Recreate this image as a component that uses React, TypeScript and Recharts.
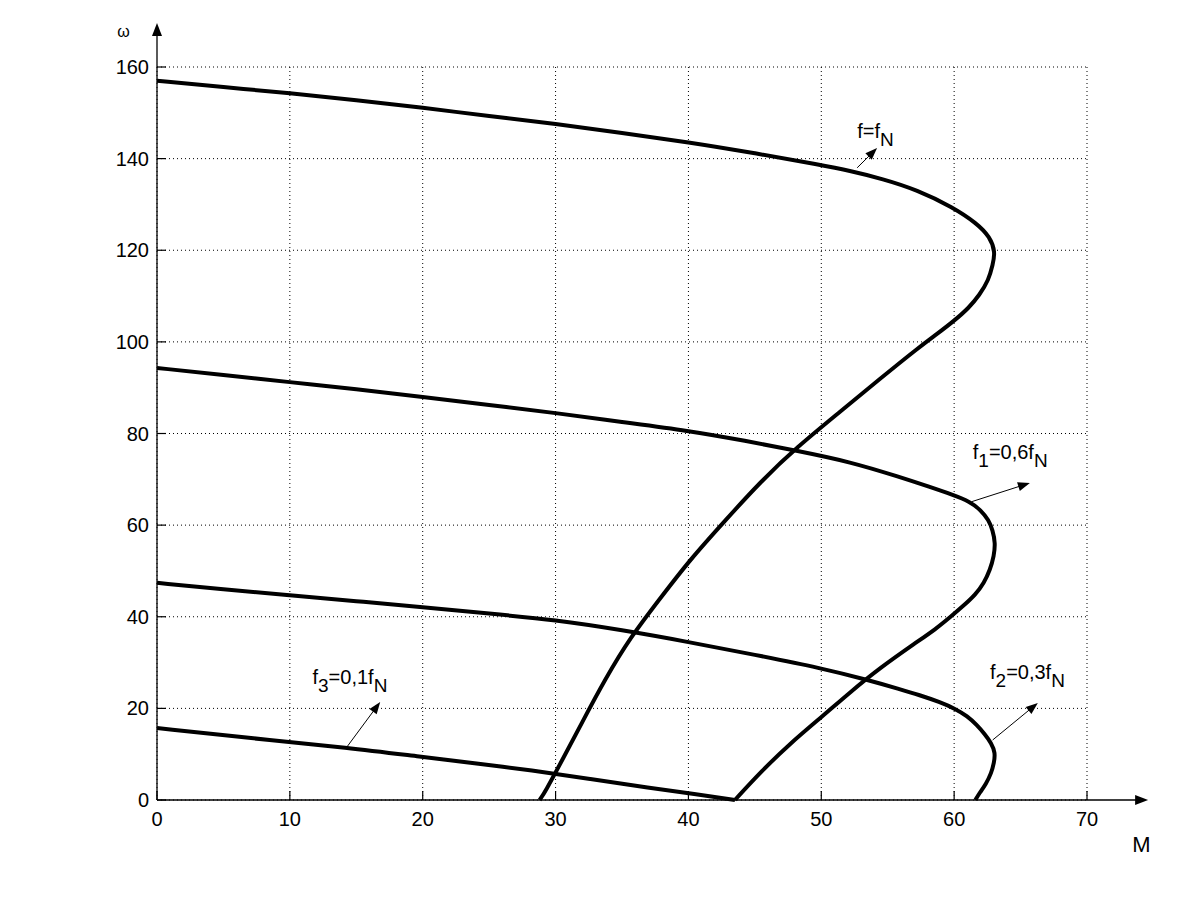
import {
  CartesianGrid,
  Line,
  LineChart,
  ReferenceDot,
  ReferenceLine,
  XAxis,
  YAxis,
} from "recharts";

const FONT = "'Liberation Sans', Arial, Helvetica, sans-serif";
const INK = "#000";

// f = fN
const mFN = [0, 5, 10, 15, 20, 25, 30, 35, 40, 45, 50, 52.2, 54.6, 57.2, 59.9, 61.7, 62.7, 63.1, 62.9, 62.6, 61.9, 61.1, 60.0, 58.7, 57.3, 54.4, 51.4, 48.2, 45.4, 42.8, 40.1, 37.9, 35.6, 33.7, 32.1, 30.5, 29.2, 28.8];
const wFN = [157, 155.6, 154.3, 152.8, 151.1, 149.3, 147.6, 145.6, 143.6, 141.2, 138.6, 137.3, 135.6, 133.2, 129.4, 125.9, 122.9, 119.6, 116.8, 113.5, 110.2, 107.4, 104.6, 101.7, 98.7, 91.9, 84.7, 77.1, 69.4, 61.1, 52.4, 44.1, 35.4, 26.2, 17.5, 8.7, 1.7, 0];

// f1 = 0,6 fN
const mF1 = [0, 5, 10, 15, 20, 25, 30, 35, 40, 44.3, 48.2, 52.2, 55.9, 58.2, 59.9, 61.2, 62.0, 62.6, 62.9, 63.1, 63.0, 62.7, 62.25, 61.6, 60.7, 59.7, 58.6, 57.2, 54.4, 52.2, 50.1, 47.6, 45.5, 43.5];
const wF1 = [94.3, 92.8, 91.2, 89.7, 88.0, 86.2, 84.5, 82.5, 80.6, 78.4, 76.2, 73.8, 70.5, 68.3, 66.6, 65.1, 63.3, 61.1, 58.9, 56.1, 53.3, 50.2, 47.4, 44.8, 42.4, 39.9, 37.3, 34.5, 28.8, 23.6, 18.3, 12.2, 6.3, 0];

// f2 = 0,3 fN
const mF2 = [0, 5, 10, 15, 20, 25, 30, 35, 40, 45, 50, 53.5, 55.9, 57.4, 58.9, 60.1, 61.0, 61.7, 62.3, 62.8, 63.1, 63.0, 62.8, 62.4, 61.9, 61.6];
const wF2 = [47.4, 46.0, 44.7, 43.4, 42.1, 40.7, 39.3, 37.1, 34.5, 31.7, 28.8, 26.2, 24.2, 22.9, 21.4, 19.9, 18.3, 16.4, 14.4, 12.4, 10.3, 8.1, 5.9, 3.5, 1.5, 0];

// f3 = 0,1 fN
const mF3 = [0, 7, 14.5, 19.9, 24.3, 28.1, 32.6, 37.1, 40.5, 43.5];
const wF3 = [15.7, 13.5, 11.4, 9.4, 7.9, 6.5, 4.6, 2.6, 1.3, 0];

const xTicks = [0, 10, 20, 30, 40, 50, 60, 70];
const yTicks = [0, 20, 40, 60, 80, 100, 120, 140, 160];

const toPoints = (m: number[], w: number[]) => m.map((M, i) => ({ M, w: w[i] }));

const curves = [
  { key: "fN", data: toPoints(mFN, wFN) },
  { key: "f1", data: toPoints(mF1, wF1) },
  { key: "f2", data: toPoints(mF2, wF2) },
  { key: "f3", data: toPoints(mF3, wF3) },
];

// annotation arrows (from curve to label) and label anchors, in M / ω units
const notes = [
  { id: "fN", from: [52.7, 138.0], to: [54.2, 142.3], at: [52.7, 144.5], main: "f", sub1: "", mid: "=f", sub2: "N" },
  { id: "f1", from: [61.3, 65.1], to: [65.7, 69.2], at: [61.4, 74.4], main: "f", sub1: "1", mid: "=0,6f", sub2: "N" },
  { id: "f2", from: [62.9, 13.1], to: [66.3, 21.2], at: [62.7, 26.4], main: "f", sub1: "2", mid: "=0,3f", sub2: "N" },
  { id: "f3", from: [14.3, 11.6], to: [16.8, 21.4], at: [11.7, 25.3], main: "f", sub1: "3", mid: "=0,1f", sub2: "N" },
];

function arrowShape(head: number, half: number, width: number) {
  return (p: any) => {
    const { x1, y1, x2, y2 } = p;
    const dx = x2 - x1;
    const dy = y2 - y1;
    const len = Math.hypot(dx, dy) || 1;
    const ux = dx / len;
    const uy = dy / len;
    const bx = x2 - ux * head;
    const by = y2 - uy * head;
    const nx = -uy * half;
    const ny = ux * half;
    return (
      <g>
        <line x1={x1} y1={y1} x2={bx + ux * 2} y2={by + uy * 2} stroke={INK} strokeWidth={width} />
        <polygon points={`${x2},${y2} ${bx + nx},${by + ny} ${bx - nx},${by - ny}`} fill={INK} />
      </g>
    );
  };
}

function labelShape(n: (typeof notes)[number]) {
  return (p: any) => (
    <text x={p.cx} y={p.cy} fontFamily={FONT} fontSize={20} fill={INK}>
      <tspan>{n.main}</tspan>
      {n.sub1 ? (
        <>
          <tspan dy={8} fontSize={19}>{n.sub1}</tspan>
          <tspan dy={-8}>{n.mid}</tspan>
        </>
      ) : (
        <tspan>{n.mid}</tspan>
      )}
      <tspan dy={8} fontSize={19}>{n.sub2}</tspan>
    </text>
  );
}

const tickStyle = { fill: INK, fontSize: 20, fontFamily: FONT };

export default function App() {
  return (
    <div style={{ position: "absolute", left: 0, top: 0, width: 1200, height: 900, background: "#fff" }}>
      <LineChart width={1200} height={900} margin={{ top: 67, right: 113, bottom: 60, left: 97 }}>
        <CartesianGrid stroke={INK} strokeDasharray="1 3" strokeWidth={1} />
        <XAxis
          type="number"
          dataKey="M"
          domain={[0, 70]}
          ticks={xTicks}
          height={40}
          axisLine={false}
          tickSize={-9}
          tickMargin={21}
          tickLine={{ stroke: INK, strokeWidth: 1.2 }}
          tick={tickStyle}
        />
        <YAxis
          type="number"
          dataKey="w"
          domain={[0, 160]}
          ticks={yTicks}
          width={60}
          axisLine={false}
          tickSize={-9}
          tickMargin={17}
          tickLine={{ stroke: INK, strokeWidth: 1.2 }}
          tick={tickStyle}
        />
        {curves.map((c) => (
          <Line
            key={c.key}
            data={c.data}
            dataKey="w"
            type="basis"
            stroke={INK}
            strokeWidth={4}
            dot={false}
            activeDot={false}
            isAnimationActive={false}
          />
        ))}
        {/* axes with arrow heads */}
        <ReferenceLine
          segment={[{ x: 0, y: 0 }, { x: 74.6, y: 0 }]}
          ifOverflow="visible"
          shape={arrowShape(13, 5, 1.3)}
        />
        <ReferenceLine
          segment={[{ x: 0, y: 0 }, { x: 0, y: 169.6 }]}
          ifOverflow="visible"
          shape={arrowShape(13, 5, 1.3)}
        />
        {notes.map((n) => (
          <ReferenceLine
            key={`a-${n.id}`}
            segment={[{ x: n.from[0], y: n.from[1] }, { x: n.to[0], y: n.to[1] }]}
            ifOverflow="visible"
            shape={arrowShape(12, 4.5, 1)}
          />
        ))}
        {notes.map((n) => (
          <ReferenceDot key={`l-${n.id}`} x={n.at[0]} y={n.at[1]} r={0} ifOverflow="visible" shape={labelShape(n)} />
        ))}
        <ReferenceDot
          x={-3.0}
          y={166.6}
          r={0}
          ifOverflow="visible"
          shape={(p: any) => (
            <text x={p.cx} y={p.cy} fontFamily={FONT} fontSize={16} fill={INK}>
              ω
            </text>
          )}
        />
        <ReferenceDot
          x={73.4}
          y={-11.4}
          r={0}
          ifOverflow="visible"
          shape={(p: any) => (
            <text x={p.cx} y={p.cy} fontFamily={FONT} fontSize={22} fill={INK}>
              M
            </text>
          )}
        />
      </LineChart>
    </div>
  );
}
